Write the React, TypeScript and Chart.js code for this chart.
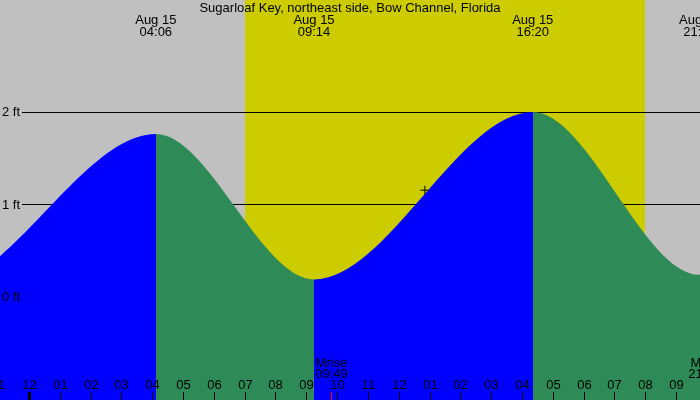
import { useEffect, useRef } from "react";
import Chart from "chart.js/auto";

const stationName = "Sugarloaf Key, northeast side, Bow Channel, Florida";
const dayLabel = "Aug 15";

// high / low tides; the first two and last two fall outside the view
const tideTimes = ["15:40", "21:00", "04:06", "09:14", "16:20", "21:45", "04:20", "09:50"];
const tideDayOffsets = [-1, -1, 0, 0, 0, 0, 1, 1];
const tideFeet = [1.9, 0.1, 1.76, 0.18, 2.0, 0.23, 1.7, 0.3];

const sunTimes = ["06:59", "19:58"]; // sunrise, sunset
const moonTimes = ["09:49", "21:54"];
const moonLabels = ["Mrise", "Mset"];

const nowTime = "12:50";
const nowFeet = 1.15;

const hourTicks = [-1, 0, 1, 2, 3, 4, 5, 6, 7, 8, 9, 10, 11, 12, 13, 14, 15, 16, 17, 18, 19, 20, 21];
const hourLabels = ["11", "12", "01", "02", "03", "04", "05", "06", "07", "08", "09", "10", "11", "12", "01", "02", "03", "04", "05", "06", "07", "08", "09"];
const feetTicks = [0, 1, 2];
const feetLabels = ["0 ft", "1 ft", "2 ft"];

const X_MIN = -0.9575;
const X_MAX = 21.762;
const Y_MIN = -1.13;
const Y_MAX = 3.217;

const FONT = "13px 'Liberation Sans', Arial, sans-serif";
const NIGHT = "#c0c0c0";
const DAY = "#cccc00";
const RISING = "#0000ff";
const FALLING = "#2e8b57";

function toHours(t: string, day = 0) {
  const [h, m] = t.split(":").map(Number);
  return h + m / 60 + day * 24;
}

// blue while the water rises, green while it falls, switching at each high / low
function tideFill(c: any) {
  const chart = c.chart;
  const x = chart.scales?.x;
  if (!chart.chartArea || !x) return RISING;
  const w = chart.width;
  const g = chart.ctx.createLinearGradient(0, 0, w, 0);
  let color = tideFeet[1] > tideFeet[0] ? RISING : FALLING;
  g.addColorStop(0, color);
  for (let i = 1; i < tideTimes.length - 1; i++) {
    const px = x.getPixelForValue(toHours(tideTimes[i], tideDayOffsets[i]));
    const off = Math.min(1, Math.max(0, px / w));
    const next = tideFeet[i + 1] > tideFeet[i] ? RISING : FALLING;
    g.addColorStop(off, color);
    g.addColorStop(off, next);
    color = next;
  }
  g.addColorStop(1, color);
  return g;
}

const tidePlugin = {
  id: "tideDecor",
  beforeDraw(chart: any) {
    const { ctx, width, height } = chart;
    const { x, y } = chart.scales;
    ctx.save();
    ctx.fillStyle = NIGHT;
    ctx.fillRect(0, 0, width, height);
    const sr = Math.round(x.getPixelForValue(toHours(sunTimes[0])));
    const ss = Math.round(x.getPixelForValue(toHours(sunTimes[1])));
    ctx.fillStyle = DAY;
    ctx.fillRect(sr, 0, ss - sr, height);

    ctx.strokeStyle = "#000";
    ctx.lineWidth = 1;
    feetTicks.forEach((v) => {
      const py = Math.round(y.getPixelForValue(v)) + 0.5;
      ctx.beginPath();
      ctx.moveTo(22, py);
      ctx.lineTo(width, py);
      ctx.stroke();
    });
    ctx.restore();
  },
  afterDraw(chart: any) {
    const { ctx, width, height } = chart;
    const { x, y } = chart.scales;
    ctx.save();
    ctx.font = FONT;
    ctx.fillStyle = "#000";
    ctx.textBaseline = "alphabetic";

    ctx.textAlign = "center";
    ctx.fillText(stationName, width / 2, 12);

    tideTimes.forEach((t, i) => {
      const px = x.getPixelForValue(toHours(t, tideDayOffsets[i]));
      if (px < -40 || px > width + 40) return;
      ctx.fillText(dayLabel, px, 24);
      ctx.fillText(t, px, 36);
    });

    ctx.textAlign = "left";
    feetTicks.forEach((v, i) => {
      const py = y.getPixelForValue(v);
      ctx.fillText(feetLabels[i], 2, py + 4.5);
    });

    ctx.textAlign = "center";
    ctx.strokeStyle = "#000";
    hourTicks.forEach((h, i) => {
      const px = Math.floor(x.getPixelForValue(h));
      ctx.lineWidth = h % 24 === 0 ? 3 : 1;
      ctx.beginPath();
      ctx.moveTo(px + 0.5, height - 8);
      ctx.lineTo(px + 0.5, height);
      ctx.stroke();
      ctx.fillText(hourLabels[i], px + 0.5, height - 11);
    });

    moonTimes.forEach((t, i) => {
      const px = Math.floor(x.getPixelForValue(toHours(t)));
      ctx.strokeStyle = "#ff0000";
      ctx.lineWidth = 1;
      ctx.beginPath();
      ctx.moveTo(px + 0.5, height - 8);
      ctx.lineTo(px + 0.5, height);
      ctx.stroke();
      ctx.fillText(moonLabels[i], px + 0.5, height - 33);
      ctx.fillText(t, px + 0.5, height - 22);
    });
    ctx.restore();
  },
};

export default function App() {
  const canvasRef = useRef<HTMLCanvasElement | null>(null);

  useEffect(() => {
    document.body.style.margin = "0";
    if (!canvasRef.current) return;

    const tidePoints = tideTimes.map((t, i) => ({
      x: toHours(t, tideDayOffsets[i]),
      y: tideFeet[i],
    }));

    const chart = new Chart(canvasRef.current, {
      type: "line",
      data: {
        datasets: [
          {
            data: [{ x: toHours(nowTime), y: nowFeet }],
            showLine: false,
            pointStyle: "cross",
            pointRadius: 4.5,
            pointBorderColor: "#000",
            pointBorderWidth: 1,
            fill: false,
            order: 0,
          },
          {
            data: tidePoints,
            cubicInterpolationMode: "monotone",
            pointRadius: 0,
            borderWidth: 0,
            borderColor: "rgba(0,0,0,0)",
            fill: "start",
            backgroundColor: tideFill,
            order: 1,
          },
        ],
      },
      options: {
        animation: false,
        responsive: false,
        events: [],
        layout: { padding: 0, autoPadding: false },
        plugins: {
          legend: { display: false },
          tooltip: { enabled: false },
          title: { display: false },
        },
        scales: {
          x: { type: "linear", min: X_MIN, max: X_MAX, display: false },
          y: { min: Y_MIN, max: Y_MAX, display: false },
        },
      },
      plugins: [tidePlugin],
    });

    return () => {
      chart.destroy();
    };
  }, []);

  return (
    <canvas
      ref={canvasRef}
      width={700}
      height={400}
      style={{ display: "block" }}
    />
  );
}
